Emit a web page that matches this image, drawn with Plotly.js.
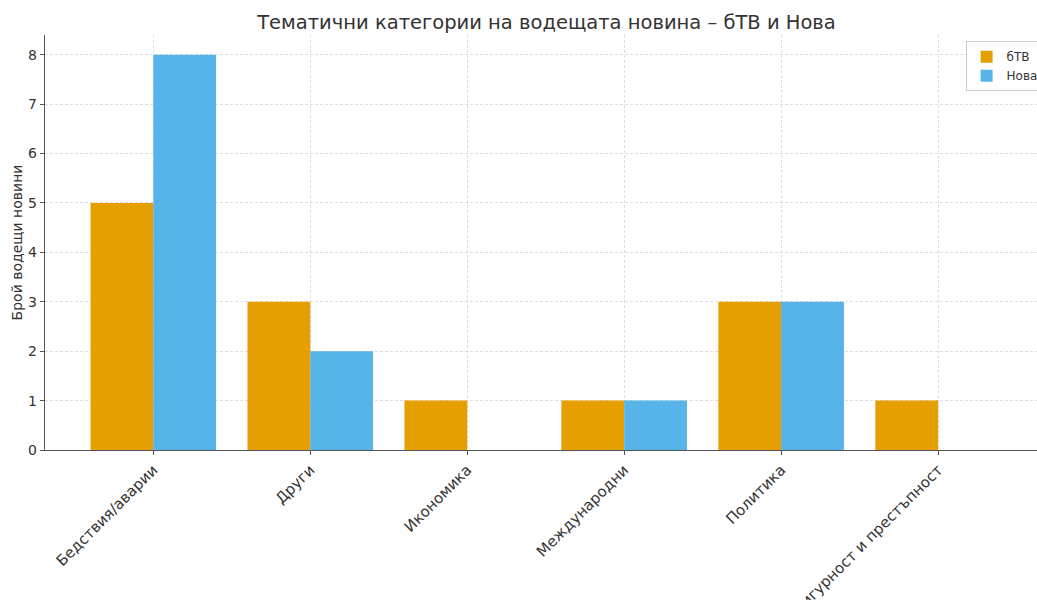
<!DOCTYPE html>
<html>
<head>
<meta charset="utf-8">
<script src="https://cdn.plot.ly/plotly-3.0.1.min.js"></script>
<style>html,body{margin:0;padding:0;background:#fff;overflow:hidden}#chart{width:1037px;height:600px}</style>
</head>
<body>
<div id="chart"></div>
<script>
const categories = ["Бедствия/аварии", "Други", "Икономика", "Международни", "Политика", "Сигурност и престъпност"];
const btvValues = [5, 3, 1, 1, 3, 1];
const novaValues = [8, 2, 0, 1, 3, 0];
const seriesNames = ["бТВ", "Нова"];

const font = {family: "DejaVu Sans, sans-serif", color: "#333333"};
const data = [
  {type: "bar", name: seriesNames[0], x: categories, y: btvValues, marker: {color: "#E69F00", line: {width: 0}}},
  {type: "bar", name: seriesNames[1], x: categories, y: novaValues, marker: {color: "#56B4E9", line: {width: 0}}}
];
const layout = {
  width: 1037, height: 600,
  margin: {l: 45, r: 0, t: 35, b: 150, autoexpand: false},
  paper_bgcolor: "#ffffff", plot_bgcolor: "#ffffff",
  font: Object.assign({size: 13}, font),
  title: {text: "Тематични категории на водещата новина – бТВ и Нова", font: Object.assign({size: 19.5}, font), x: 0.527, xanchor: "center", y: 0.963, yanchor: "middle"},
  barmode: "group", bargap: 0.2, bargroupgap: 0,
  xaxis: {
    type: "category", range: [-0.69, 5.63], tickangle: -45, automargin: false,
    showgrid: true, gridcolor: "#d0d0d0", griddash: "3px,2px", gridwidth: 0.7,
    showline: true, linecolor: "#555555", linewidth: 1.2,
    ticks: "outside", ticklen: 4, tickcolor: "#555555",
    tickfont: Object.assign({size: 15}, font)
  },
  yaxis: {
    range: [0, 8.4], dtick: 1, tick0: 0, automargin: false,
    showgrid: true, gridcolor: "#d0d0d0", griddash: "3px,2px", gridwidth: 0.7,
    showline: true, linecolor: "#555555", linewidth: 1.2,
    ticks: "outside", ticklen: 4, tickcolor: "#555555",
    zeroline: false,
    tickfont: Object.assign({size: 14}, font),
    title: {text: "Брой водещи новини", font: Object.assign({size: 14}, font), standoff: 2}
  },
  legend: {x: 0.928, xanchor: "left", y: 0.985, yanchor: "top", bgcolor: "rgba(255,255,255,0.8)", bordercolor: "#cccccc", borderwidth: 1, font: Object.assign({size: 12}, font)},
  showlegend: true
};
Plotly.newPlot("chart", data, layout, {displayModeBar: false, staticPlot: true});
</script>
</body>
</html>
